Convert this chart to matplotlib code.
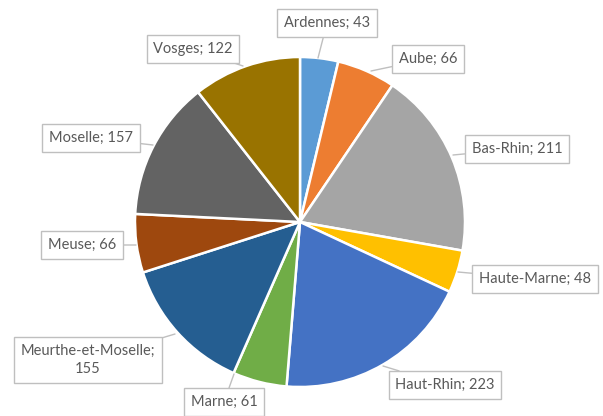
import matplotlib.pyplot as plt

# Data
departements = ["Ardennes", "Aube", "Bas-Rhin", "Haute-Marne", "Haut-Rhin",
                "Marne", "Meurthe-et-Moselle", "Meuse", "Moselle", "Vosges"]
valeurs = [43, 66, 211, 48, 223, 61, 155, 66, 157, 122]
couleurs = ["#5B9BD5", "#ED7D31", "#A5A5A5", "#FFC000", "#4472C4",
            "#70AD47", "#255E91", "#9E480E", "#636363", "#997300"]

# label box centres and leader tips, in pixels from the top-left
label_pos = [(327, 23), (428, 59), (517, 149), (535, 279), (445, 385),
             (224, 402), (88, 360), (82, 245), (91, 138), (193, 49)]
tip_pos = [(318, 58), (371, 71), (453, 155), (458, 272), (383, 366),
           (234, 374), (175, 334), (136, 245), (153, 145), (243, 66)]

W, H = 603, 416

def main():
    fig = plt.figure(figsize=(W / 100, H / 100), dpi=100)
    ax = fig.add_axes([0, 0, 1, 1])

    ax.pie(valeurs, colors=couleurs, startangle=90, counterclock=False,
           center=(300, H - 222), radius=165, frame=True,
           wedgeprops=dict(edgecolor="white", linewidth=1.8))
    ax.set_xlim(0, W)
    ax.set_ylim(0, H)
    ax.axis("off")

    for nom, val, (lx, ly), (tx, ty) in zip(departements, valeurs, label_pos, tip_pos):
        txt = f"{nom}; {val}"
        if nom == "Meurthe-et-Moselle":
            txt = f"{nom};\n{val}"
        ax.annotate(txt, xy=(tx, H - ty), xytext=(lx, H - ly),
                    ha="center", va="center", fontsize=10.5, color="#595959",
                    family=["Lato", "DejaVu Sans"], linespacing=1.4,
                    bbox=dict(boxstyle="square,pad=0.45", fc="white",
                              ec="#BFBFBF", lw=1),
                    arrowprops=dict(arrowstyle="-", color="#BFBFBF", lw=1,
                                    shrinkA=0, shrinkB=0))

    fig.savefig("out.png", dpi=100)

if __name__ == "__main__":
    main()
